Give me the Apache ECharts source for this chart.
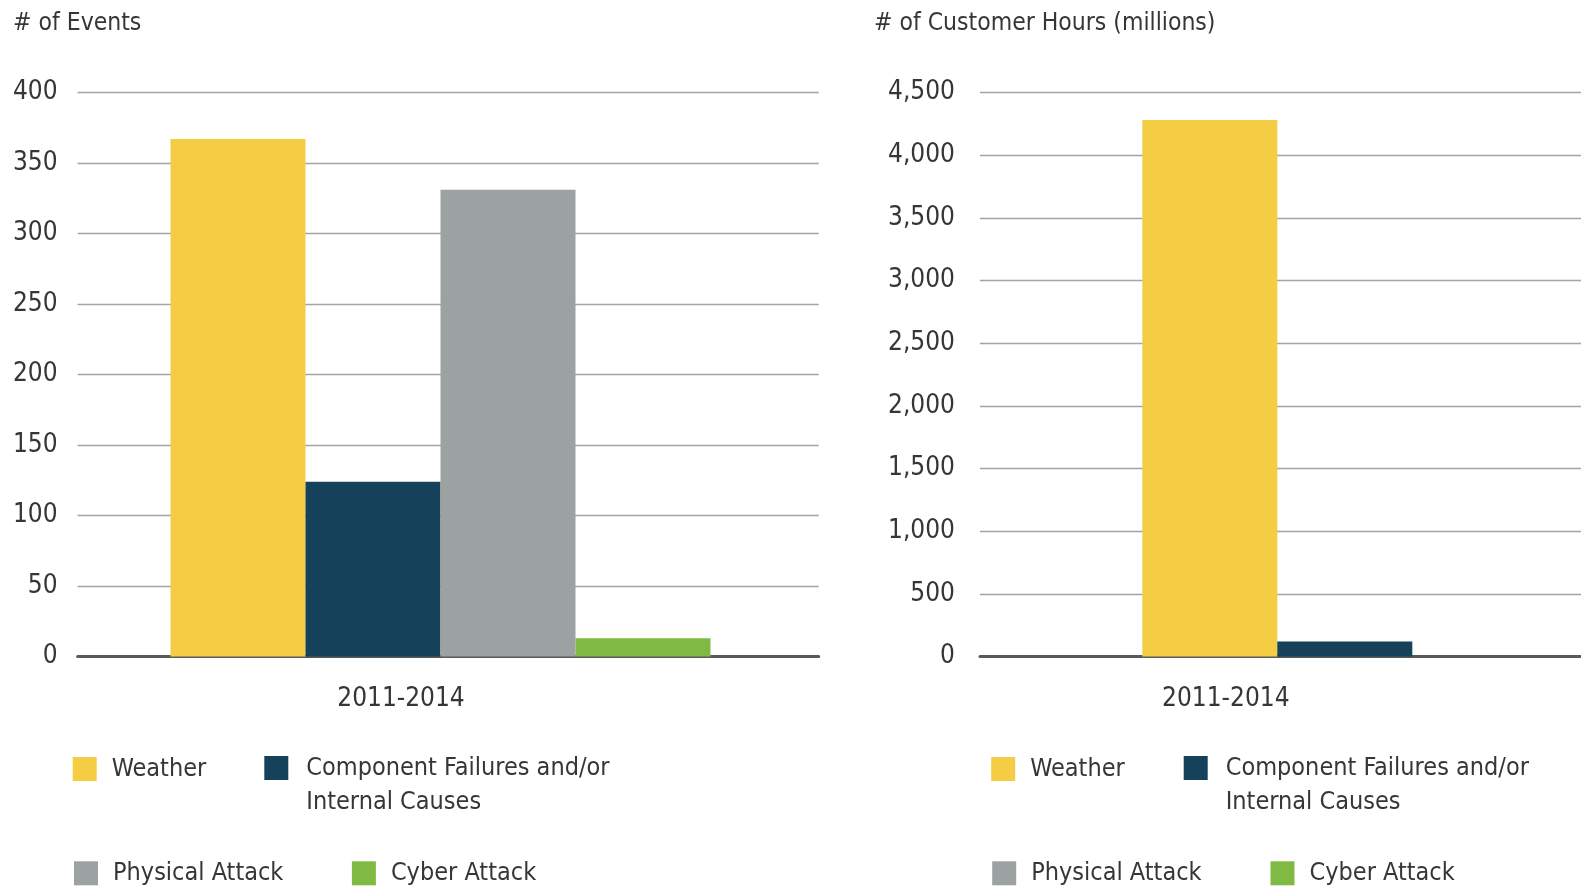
<!DOCTYPE html>
<html><head><meta charset="utf-8">
<script src="https://cdn.jsdelivr.net/npm/echarts@6/dist/echarts.min.js"></script>
<style>html,body{margin:0;padding:0;background:#fff}#c{width:1581px;height:886px}</style>
</head><body><div id="c"></div>
<script>
// ---- data ----
const categories = ['2011-2014'];
const seriesNames = ['Weather', 'Component Failures and/or\nInternal Causes', 'Physical Attack', 'Cyber Attack'];
const eventsValues = [367, 124, 331, 13];
const hoursValues = [4280, 120, 0, 0];
const eventsAxis = [0, 400, 50];     // min, max, interval
const hoursAxis = [0, 4500, 500];
const titles = ['# of Events', '# of Customer Hours (millions)'];

// ---- style ----
const colors = ['#F4CD44', '#15415A', '#9CA2A1', '#80B944'];
const FONT = "'DejaVu Sans Condensed', 'DejaVu Sans', sans-serif";
const FS_AX = 26, FS_LEG = 25, FS_TTL = 24.5;
const TXT = '#363636';
const GRID_Y = {top: 92.5, bottom: 229.5, containLabel: false, outerBoundsMode: 'none'};

const chart = echarts.init(document.getElementById('c'), null, {renderer: 'canvas'});

function yAxis(gi, ax, fmt, margin, showLabel, showSplit) {
  return {
    type: 'value', gridIndex: gi, min: ax[0], max: ax[1], interval: ax[2],
    axisLine: {show: false}, axisTick: {show: false},
    axisLabel: {show: showLabel, color: TXT, fontFamily: FONT, fontSize: FS_AX, margin: margin,
      padding: [4, 0, 0, 0], formatter: fmt},
    splitLine: {show: showSplit, lineStyle: {color: '#a3a3a3', width: 1.3}}
  };
}
function xAxis(gi, padRight, showLine, showLabel) {
  return {
    type: 'category', gridIndex: gi, data: categories,
    axisLine: {show: showLine, lineStyle: {color: '#5a5a5a', width: 3}},
    axisTick: {show: false},
    axisLabel: {show: showLabel, color: TXT, fontFamily: FONT, fontSize: FS_AX, margin: 30, padding: [0, padRight, 0, 0]}
  };
}
const series = [];
seriesNames.forEach((n, i) => {
  series.push({name: n, type: 'bar', xAxisIndex: 0, yAxisIndex: 0, data: [eventsValues[i]],
    barWidth: 135, barGap: '0%', itemStyle: {color: colors[i]}, z: 3});
  series.push({name: n, type: 'bar', xAxisIndex: 1, yAxisIndex: 1, data: [hoursValues[i]],
    barWidth: 135, barGap: '0%', itemStyle: {color: colors[i]}, z: 3});
});

const legendPos = [
  [[72.7, 755], [264.3, 755], [74, 859.3], [351.9, 859.3]],
  [[991.2, 755], [1183.7, 755], [992.2, 859.3], [1270.5, 859.3]]
];
const legends = [];
legendPos.forEach(pos => {
  pos.forEach((p, i) => {
    const multi = seriesNames[i].indexOf('\n') >= 0;
    legends.push({
      data: [seriesNames[i]], left: p[0], top: multi ? p[1] - 39 : p[1] + 1, padding: 0,
      icon: 'rect', itemWidth: 24, itemHeight: 24, selectedMode: false,
      formatter: multi ? (n => '\n' + n) : (n => n),
      textStyle: {color: TXT, fontFamily: FONT, fontSize: FS_LEG,
        lineHeight: multi ? 34 : 24, padding: [multi ? 2 : 2, 0, 0, multi ? 13 : 10]}
    });
  });
});

chart.setOption({
  animation: false,
  backgroundColor: '#ffffff',
  title: [
    {text: titles[0], left: 13, top: 11, padding: 0, textStyle: {color: TXT, fontFamily: FONT, fontSize: FS_TTL, fontWeight: 'normal'}},
    {text: titles[1], left: 874, top: 11, padding: 0, textStyle: {color: TXT, fontFamily: FONT, fontSize: FS_TTL, fontWeight: 'normal'}}
  ],
  legend: legends,
  grid: [
    Object.assign({left: 77.6, width: 725.8}, GRID_Y),   // left chart bars
    Object.assign({left: 980, width: 864.6}, GRID_Y),    // right chart
    Object.assign({left: 77.6, width: 741.1}, GRID_Y)    // left chart frame (grid lines, base line)
  ],
  xAxis: [xAxis(0, 79, false, true), xAxis(1, 373, true, true), xAxis(2, 0, true, false)],
  yAxis: [
    yAxis(0, eventsAxis, v => String(v), 20, true, false),
    yAxis(1, hoursAxis, v => v.toLocaleString('en-US'), 25, true, true),
    yAxis(2, eventsAxis, v => String(v), 20, false, true)
  ],
  series: series
});
</script></body></html>
